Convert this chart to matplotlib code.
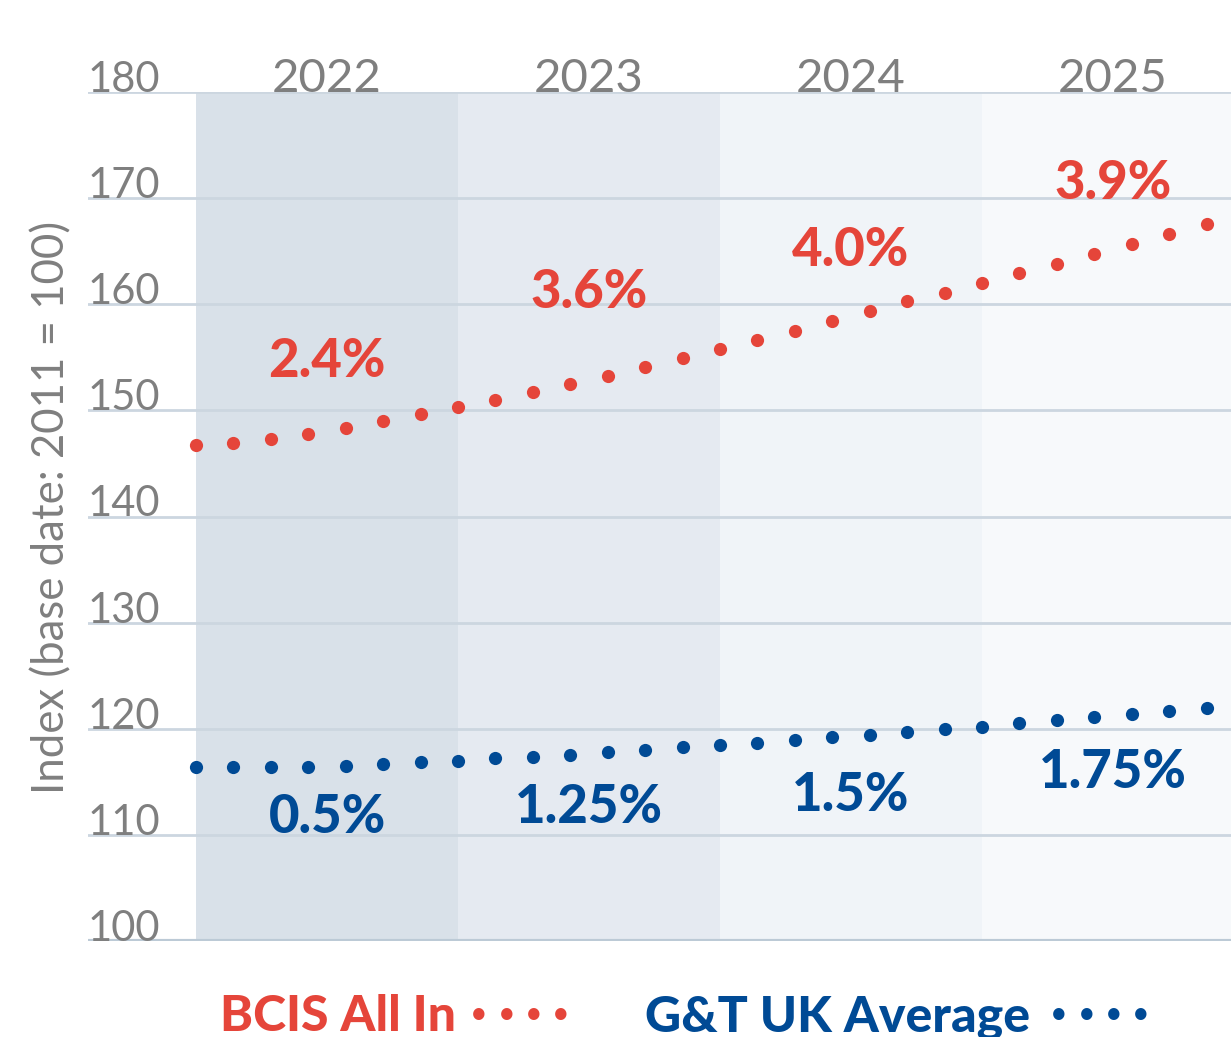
import numpy as np
import matplotlib.pyplot as plt
from matplotlib.transforms import blended_transform_factory

plt.rcParams['font.family'] = ['Lato', 'DejaVu Sans']

years = ['2022', '2023', '2024', '2025']
yticks = [100, 110, 120, 130, 140, 150, 160, 170, 180]

# index values, 7 readings per year
bcis = [146.7, 146.9, 147.3, 147.8, 148.3, 149.0, 149.7,
        150.3, 151.0, 151.7, 152.5, 153.2, 154.1, 154.9,
        155.8, 156.6, 157.5, 158.4, 159.4, 160.3, 161.1,
        162.0, 162.9, 163.8, 164.7, 165.7, 166.6, 167.6]
gt_uk = [116.4, 116.4, 116.4, 116.4, 116.5, 116.7, 116.9,
         117.0, 117.2, 117.3, 117.5, 117.8, 118.0, 118.3,
         118.5, 118.7, 118.9, 119.2, 119.4, 119.7, 120.0,
         120.2, 120.5, 120.8, 121.1, 121.4, 121.7, 122.0]
bcis_pct = ['2.4%', '3.6%', '4.0%', '3.9%']
gt_pct = ['0.5%', '1.25%', '1.5%', '1.75%']
bcis_label_y = [154.6, 161.1, 165.1, 171.4]
gt_label_y = [111.6, 112.6, 113.7, 115.9]

red = '#E5453A'
blue = '#004A95'
grey = '#7F7F7F'
band_colors = ['#D9E1E9', '#E5EAF1', '#F0F4F8', '#F7F9FB']

fig = plt.figure(figsize=(12.31, 10.37), dpi=100)
ax = fig.add_axes([88 / 1231, (1037 - 941) / 1037, 1 - 88 / 1231, (941 - 92) / 1037])

x = np.arange(len(bcis)) / 7

for i, c in enumerate(band_colors):
    ax.axvspan(i, i + 1, color=c, zorder=0, lw=0)

for v in yticks:
    lw = 3 if v == 100 else 2
    col = '#BCCAD6' if v == 100 else '#CCD6E0'
    ax.axhline(v, color=col, lw=lw, zorder=1)

ax.plot(x, bcis, 'o', color=red, ms=9.5, mec='none', zorder=3)
ax.plot(x, gt_uk, 'o', color=blue, ms=9.5, mec='none', zorder=3)

for i in range(len(years)):
    ax.text(i + 0.5, 180.0, years[i], ha='center', va='baseline', fontsize=34, color=grey)
    ax.text(i + 0.5, bcis_label_y[i], bcis_pct[i], ha='center', va='center',
            fontsize=38, fontweight='black', color=red)
    ax.text(i + 0.5, gt_label_y[i], gt_pct[i], ha='center', va='center',
            fontsize=38, fontweight='black', color=blue)

trans = blended_transform_factory(ax.transAxes, ax.transData)
for v in yticks:
    ax.text(0.0, v, str(v), transform=trans, ha='left', va='baseline',
            fontsize=30, color=grey, zorder=2)

ax.set_xlim(-108 / 262, 1035 / 262)
ax.set_ylim(100, 180)
ax.axis('off')

fig.text(52 / 1231, 1 - 507 / 1037, 'Index (base date: 2011 = 100)', rotation=90,
         ha='center', va='center', fontsize=31.5, color=grey)

# legend
fig.text(220 / 1231, 1 - 1031 / 1037, 'BCIS All In', ha='left', va='baseline',
         fontsize=36, fontweight='black', color=red)
fig.text(645 / 1231, 1 - 1031 / 1037, 'G&T UK Average', ha='left', va='baseline',
         fontsize=36, fontweight='black', color=blue)
for j in range(4):
    fig.text((479 + 27.3 * j) / 1231, 1 - 1014 / 1037, '\u2022', ha='center', va='center',
             fontsize=22, color=red)
    fig.text((1059 + 27.3 * j) / 1231, 1 - 1014 / 1037, '\u2022', ha='center', va='center',
             fontsize=22, color=blue)

fig.savefig('out.png', dpi=100)
